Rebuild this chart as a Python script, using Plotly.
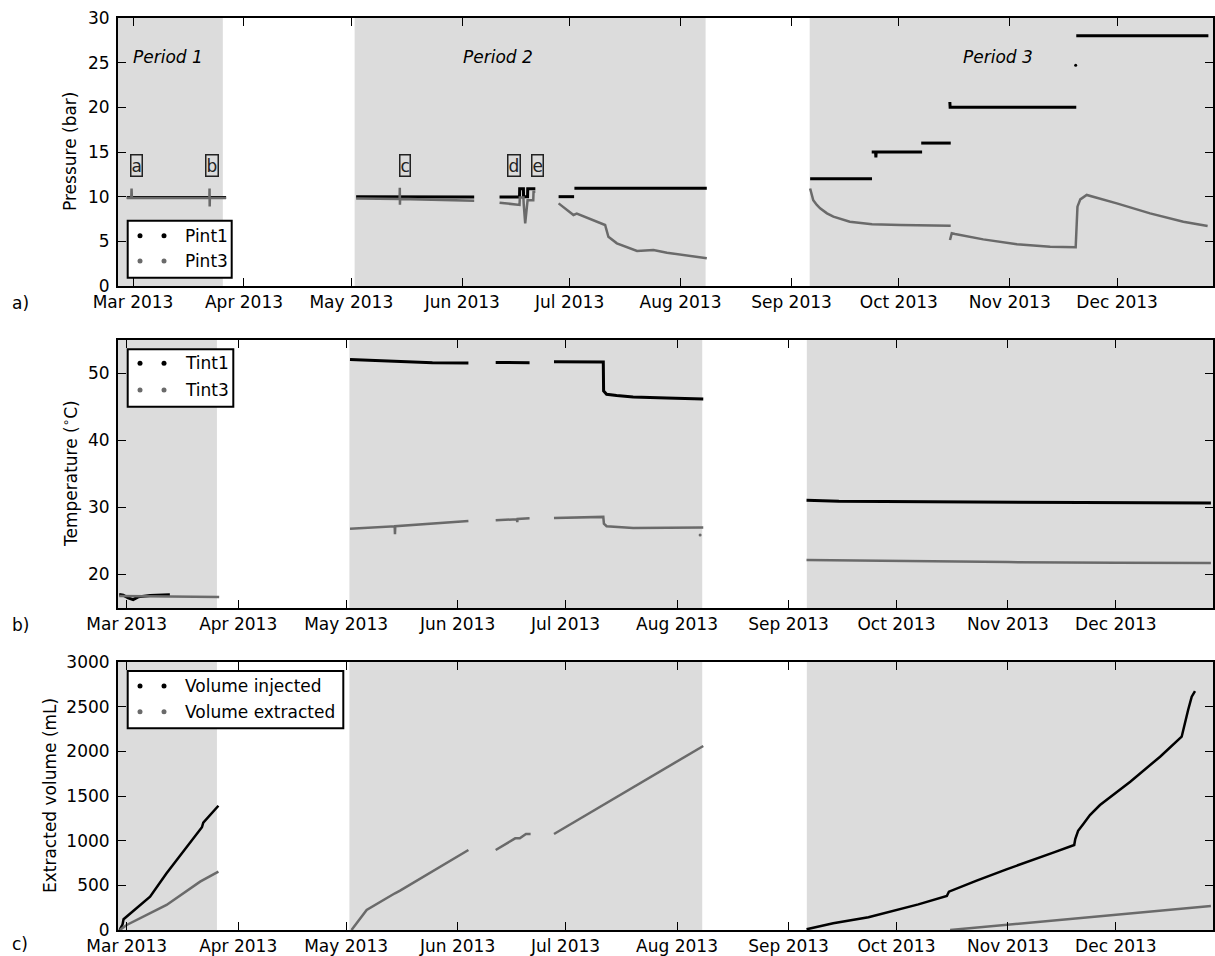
import plotly.graph_objects as go
from plotly.subplots import make_subplots

# ---------------- data ----------------
# Panel a : pressures (bar)
pint1_dates = ["2013-02-27 06:00", "2013-03-27 00:00", None,
               "2013-05-02 08:00", "2013-05-20 00:00", "2013-06-04 08:00", None,
               "2013-06-11 10:00", "2013-06-17 00:00", "2013-06-17 01:00", "2013-06-18 02:00",
               "2013-06-18 03:00", "2013-06-19 06:00", "2013-06-19 07:00", "2013-06-21 10:00", None,
               "2013-06-27 22:00", "2013-07-02 06:00", None,
               "2013-07-02 08:00", "2013-08-08 08:00", None,
               "2013-09-06 05:00", "2013-09-23 12:00", None,
               "2013-09-23 10:00", "2013-09-24 12:00", "2013-09-24 14:00", "2013-09-24 16:00",
               "2013-10-07 12:00", None,
               "2013-10-07 06:00", "2013-10-15 12:00", None,
               "2013-10-15 06:00", "2013-10-15 08:00", "2013-11-19 14:00", None,
               "2013-11-19 14:00", "2013-12-26 12:00"]
pint1_vals = [9.9, 9.9, None,
              10.0, 9.98, 9.95, None,
              9.95, 9.95, 10.9, 10.9, 10.0, 10.0, 10.9, 10.9, None,
              10.0, 10.0, None,
              10.95, 10.95, None,
              12.0, 12.0, None,
              15.0, 15.0, 14.4, 15.0, 15.0, None,
              16.0, 16.0, None,
              20.6, 20.0, 20.0, None,
              28.0, 28.0]
pint1_dot_dates = ["2013-11-19 10:00"]
pint1_dot_vals = [24.7]

pint3_dates = ["2013-02-27 06:00", "2013-02-28 12:00", "2013-02-28 14:00", "2013-02-28 16:00",
               "2013-03-22 08:00", "2013-03-22 09:00", "2013-03-22 10:00", "2013-03-22 11:00",
               "2013-03-27 00:00", None,
               "2013-05-02 08:00", "2013-05-14 12:00", "2013-05-14 13:00", "2013-05-14 14:00",
               "2013-05-14 15:00", "2013-06-04 08:00", None,
               "2013-06-11 10:00", "2013-06-17 00:00", "2013-06-17 02:00", "2013-06-18 02:00",
               "2013-06-18 04:00", "2013-06-18 14:00", "2013-06-19 06:00", "2013-06-20 20:00",
               "2013-06-20 22:00", "2013-06-21 10:00", None,
               "2013-06-27 22:00", "2013-07-02 02:00", "2013-07-03 00:00", "2013-07-10 22:00",
               "2013-07-11 20:00", "2013-07-14 05:00", "2013-07-19 20:00", "2013-07-24 10:00",
               "2013-07-28 05:00", "2013-08-08 08:00", None,
               "2013-09-06 05:00", "2013-09-06 17:00", "2013-09-07 02:00", "2013-09-08 02:00",
               "2013-09-09 00:00", "2013-09-10 22:00", "2013-09-12 17:00", "2013-09-17 07:00",
               "2013-09-23 12:00", "2013-10-01 10:00", "2013-10-15 12:00", None,
               "2013-10-15 07:00", "2013-10-15 19:00", "2013-10-16 17:00", "2013-10-24 14:00",
               "2013-11-03 00:00", "2013-11-12 07:00", "2013-11-19 10:00", "2013-11-19 14:00",
               "2013-11-19 22:00", "2013-11-20 17:00", "2013-11-22 12:00", "2013-11-30 22:00",
               "2013-12-10 05:00", "2013-12-19 12:00", "2013-12-26 07:00"]
pint3_vals = [9.85, 9.85, 10.9, 9.85, 9.85, 10.9, 8.9, 9.85, 9.85, None,
              9.8, 9.75, 11.0, 9.1, 9.75, 9.55, None,
              9.33, 9.07, 9.9, 9.9, 9.2, 7.0, 9.6, 9.6, 10.55, 10.55, None,
              9.25, 7.95, 8.1, 6.83, 5.5, 4.78, 3.92, 4.03, 3.73, 3.1, None,
              10.92, 10.19, 9.6, 9.07, 8.7, 8.13, 7.76, 7.2, 6.9, 6.83, 6.75, None,
              5.15, 5.9, 5.82, 5.22, 4.67, 4.4, 4.33, 5.9, 8.88, 9.7, 10.19, 9.25,
              8.13, 7.2, 6.72]

# Panel b : temperatures (deg C)
tint1_dates = ["2013-02-26 22:00", "2013-02-28 01:00", "2013-03-01 10:00", "2013-03-02 19:00",
               "2013-03-04 05:00", "2013-03-07 12:00", "2013-03-13 00:00", None,
               "2013-05-02 02:00", "2013-05-15 00:00", "2013-05-25 00:00", "2013-06-04 00:00", None,
               "2013-06-11 14:00", "2013-06-21 00:00", None,
               "2013-06-27 19:00", "2013-07-11 12:00", "2013-07-11 14:00", "2013-07-12 10:00",
               "2013-07-15 05:00", "2013-07-19 19:00", "2013-07-29 02:00", "2013-08-08 07:00", None,
               "2013-09-06 00:00", "2013-09-15 00:00", "2013-10-10 00:00", "2013-11-10 00:00",
               "2013-12-10 00:00", "2013-12-27 10:00"]
tint1_vals = [17.0, 16.9, 16.5, 16.26, 16.66, 16.86, 16.96, None,
              52.1, 51.85, 51.6, 51.55, None,
              51.65, 51.6, None,
              51.75, 51.7, 47.4, 46.9, 46.7, 46.5, 46.35, 46.2, None,
              31.1, 30.95, 30.85, 30.78, 30.7, 30.67]

tint3_dates = ["2013-02-26 22:00", "2013-03-26 17:00", None,
               "2013-05-02 02:00", "2013-05-14 12:00", "2013-05-14 14:00", "2013-05-14 16:00",
               "2013-06-04 00:00", None,
               "2013-06-11 14:00", "2013-06-17 12:00", "2013-06-17 14:00", "2013-06-17 16:00",
               "2013-06-21 00:00", None,
               "2013-06-27 19:00", "2013-07-11 12:00", "2013-07-11 16:00", "2013-07-12 10:00",
               "2013-07-19 19:00", "2013-08-08 07:00", None,
               "2013-09-06 00:00", "2013-10-01 00:00", "2013-11-01 00:00", "2013-12-01 00:00",
               "2013-12-27 10:00"]
tint3_vals = [16.8, 16.66, None,
              26.84, 27.2, 26.0, 27.2, 28.0, None,
              28.1, 28.25, 27.8, 28.3, 28.4, None,
              28.43, 28.6, 27.6, 27.2, 26.95, 27.0, None,
              22.15, 22.0, 21.85, 21.75, 21.7]
tint3_dot_dates = ["2013-08-07 10:00"]
tint3_dot_vals = [25.9]

# Panel c : volumes (mL)
vinj_dates = ["2013-02-27 00:00", "2013-02-27 20:00", "2013-02-28 03:00", "2013-03-03 12:00",
              "2013-03-07 12:00", "2013-03-12 02:00", "2013-03-16 17:00", "2013-03-21 10:00",
              "2013-03-21 22:00", "2013-03-22 07:00", "2013-03-26 12:00", None,
              "2013-09-06 00:00", "2013-09-09 17:00", "2013-09-13 10:00", "2013-09-23 05:00",
              "2013-10-01 02:00", "2013-10-07 02:00", "2013-10-15 00:00", "2013-10-15 14:00",
              "2013-10-23 07:00", "2013-10-31 14:00", "2013-11-13 14:00", "2013-11-19 10:00",
              "2013-11-19 17:00", "2013-11-20 12:00", "2013-11-22 00:00", "2013-11-23 19:00",
              "2013-11-26 14:00", "2013-12-05 00:00", "2013-12-13 07:00", "2013-12-19 07:00",
              "2013-12-21 02:00", "2013-12-22 02:00", "2013-12-23 00:00"]
vinj_vals = [0, 60, 120, 235, 373, 634, 877, 1127, 1150, 1201, 1391, None,
             8, 45, 75, 142, 224, 287, 381, 429, 552, 679, 866, 951, 1019, 1110, 1190, 1287,
             1399, 1660, 1940, 2164, 2463, 2612, 2675]

vext_dates = ["2013-02-27 02:00", "2013-03-01 00:00", "2013-03-12 02:00", "2013-03-21 10:00",
              "2013-03-26 12:00", None,
              "2013-05-02 12:00", "2013-05-06 17:00", "2013-05-14 14:00", "2013-05-16 00:00",
              "2013-06-04 00:00", None,
              "2013-06-11 14:00", "2013-06-17 00:00", "2013-06-18 07:00", "2013-06-20 00:00",
              "2013-06-21 07:00", None,
              "2013-06-27 19:00", "2013-08-08 07:00", None,
              "2013-10-15 22:00", "2013-12-27 10:00"]
vext_vals = [0, 56, 280, 541, 653, None,
             0, 224, 411, 440, 895, None,
             895, 1026, 1026, 1075, 1075, None,
             1075, 2060, None,
             0, 269]

# Shaded experimental periods
period_names = ["Period 1", "Period 2", "Period 3"]
period_starts = [None, "2013-05-01 22:00", "2013-09-06 02:00"]
period_ends = ["2013-03-26 02:00", "2013-08-08 00:00", None]
period_label_dates = ["2013-03-10 20:00", "2013-06-10 22:00", "2013-10-28 20:00"]
period_label_y = 25.6

# Event markers in panel a
event_labels = ["a", "b", "c", "d", "e"]
event_dates = ["2013-03-02 00:00", "2013-03-23 04:00", "2013-05-16 02:00", "2013-06-15 08:00",
               "2013-06-22 02:00"]
event_y = 13.5

x_ranges = [["2013-02-24 19:00", "2013-12-27 19:00"],
            ["2013-02-26 14:00", "2013-12-28 00:00"],
            ["2013-02-26 14:00", "2013-12-28 00:00"]]

# ---------------- styling ----------------
FONT = "DejaVu Sans"
FS = 17
BLACK = "#000000"
GREY = "#6a6a6a"
SHADE = "#dcdcdc"
W, H = 1215, 956
L, R, T, B = 118, 1213, 18, 930

def fx(px):
    return (px - L) / (R - L)

def fy(py):
    return (B - py) / (B - T)

dom_a = [fy(286), fy(18)]
dom_b = [fy(608), fy(340)]
dom_c = [fy(930), fy(662)]

fig = make_subplots(rows=3, cols=1, shared_xaxes=False, vertical_spacing=0.05)

def line(x, y, color, width, row):
    fig.add_trace(go.Scatter(x=x, y=y, mode="lines", connectgaps=False,
                             line=dict(color=color, width=width), showlegend=False,
                             hoverinfo="skip"), row=row, col=1)

def dots(x, y, color, row):
    fig.add_trace(go.Scatter(x=x, y=y, mode="markers", marker=dict(color=color, size=3),
                             showlegend=False, hoverinfo="skip"), row=row, col=1)

line(pint1_dates, pint1_vals, BLACK, 3, 1)
dots(pint1_dot_dates, pint1_dot_vals, BLACK, 1)
line(pint3_dates, pint3_vals, GREY, 2.5, 1)

line(tint1_dates, tint1_vals, BLACK, 3, 2)
line(tint3_dates, tint3_vals, GREY, 2.5, 2)
dots(tint3_dot_dates, tint3_dot_vals, GREY, 2)

line(vinj_dates, vinj_vals, BLACK, 2.5, 3)
line(vext_dates, vext_vals, GREY, 2.5, 3)

shapes = []
axis_ids = [("x", "y"), ("x2", "y2"), ("x3", "y3")]
for i, (xa, ya) in enumerate(axis_ids):
    for s, e in zip(period_starts, period_ends):
        shapes.append(dict(type="rect", xref=xa, yref=ya + " domain",
                           x0=s if s else x_ranges[i][0], x1=e if e else x_ranges[i][1],
                           y0=0, y1=1, fillcolor=SHADE, line=dict(width=0), layer="below"))

axis_common = dict(showline=True, linecolor=BLACK, linewidth=2, mirror="ticks",
                   ticks="inside", ticklen=8, tickwidth=1, tickcolor=BLACK,
                   showgrid=False, zeroline=False, automargin=False,
                   tickfont=dict(family=FONT, size=FS, color=BLACK))

for i, dom in enumerate([dom_a, dom_b, dom_c]):
    key = "xaxis" if i == 0 else f"xaxis{i+1}"
    fig.layout[key].update(type="date", range=x_ranges[i], domain=[0, 1],
                           dtick="M1", tick0="2013-03-01", tickformat="%b %Y",
                           ticklabelstandoff=0, **axis_common)

fig.update_layout(
    yaxis=dict(range=[0, 30], dtick=5, domain=dom_a, ticklabelstandoff=3, **axis_common),
    yaxis2=dict(range=[15, 55], dtick=10, tick0=0, domain=dom_b, ticklabelstandoff=3, **axis_common),
    yaxis3=dict(range=[0, 3000], dtick=500, domain=dom_c, ticklabelstandoff=3, **axis_common),
)

annotations = []
# period labels
for name, d in zip(period_names, period_label_dates):
    annotations.append(dict(x=d, y=period_label_y, xref="x", yref="y", showarrow=False,
                            text=f"<i>{name}</i>", font=dict(family=FONT, size=FS, color=BLACK)))
# event labels
for lab, d in zip(event_labels, event_dates):
    annotations.append(dict(x=d, y=event_y, xref="x", yref="y", showarrow=False, text=lab,
                            font=dict(family=FONT, size=FS, color="#222222"),
                            bordercolor="#222222", borderwidth=1.5, borderpad=0))

# y titles
for txt, px, py in [("Pressure (bar)", 70, 152),
                    ("Temperature (<sup>∘</sup>C)", 70, 474),
                    ("Extracted volume (mL)", 50, 796)]:
    annotations.append(dict(x=fx(px), y=fy(py), xref="paper", yref="paper", showarrow=False,
                            text=txt, textangle=-90, xanchor="center", yanchor="middle",
                            font=dict(family=FONT, size=FS, color=BLACK)))
# panel letters
for txt, py in [("a)", 303), ("b)", 625), ("c)", 944)]:
    annotations.append(dict(x=fx(20), y=fy(py), xref="paper", yref="paper", showarrow=False,
                            text=txt, xanchor="center", yanchor="middle",
                            font=dict(family=FONT, size=FS, color=BLACK)))

# manual legends (two-dot style)
legends = [
    (127.7, 231.7, 220.7, 277.7, [("Pint1", BLACK, 235.7), ("Pint3", GREY, 261)]),
    (127.7, 233.3, 349.3, 406.7, [("Tint1", BLACK, 363.3), ("Tint3", GREY, 390)]),
    (127.7, 343.3, 671, 728.3, [("Volume injected", BLACK, 686), ("Volume extracted", GREY, 711.7)]),
]
for x0, x1, y0, y1, items in legends:
    shapes.append(dict(type="rect", xref="paper", yref="paper", x0=fx(x0), x1=fx(x1),
                       y0=fy(y1), y1=fy(y0), fillcolor="white",
                       line=dict(color=BLACK, width=2), layer="above"))
    for label, col, py in items:
        for dx in (140, 164):
            shapes.append(dict(type="circle", xref="paper", yref="paper",
                               xsizemode="pixel", ysizemode="pixel",
                               xanchor=fx(dx), yanchor=fy(py), x0=-2.5, x1=2.5, y0=-2.5, y1=2.5,
                               fillcolor=col, line=dict(width=0), layer="above"))
        annotations.append(dict(x=fx(183), y=fy(py), xref="paper", yref="paper", showarrow=False,
                                text=label, xanchor="left", yanchor="middle",
                                font=dict(family=FONT, size=FS, color=BLACK)))

fig.update_layout(width=W, height=H, margin=dict(l=L, r=W - R, t=T, b=H - B),
                  plot_bgcolor="white", paper_bgcolor="white", showlegend=False,
                  shapes=shapes, annotations=annotations,
                  font=dict(family=FONT, size=FS, color=BLACK))

fig.write_html("out.html", config={"displayModeBar": False},
               post_script="document.body.style.margin='0';"
                           "document.body.style.overflow='hidden';"
                           "document.documentElement.style.overflow='hidden';")
